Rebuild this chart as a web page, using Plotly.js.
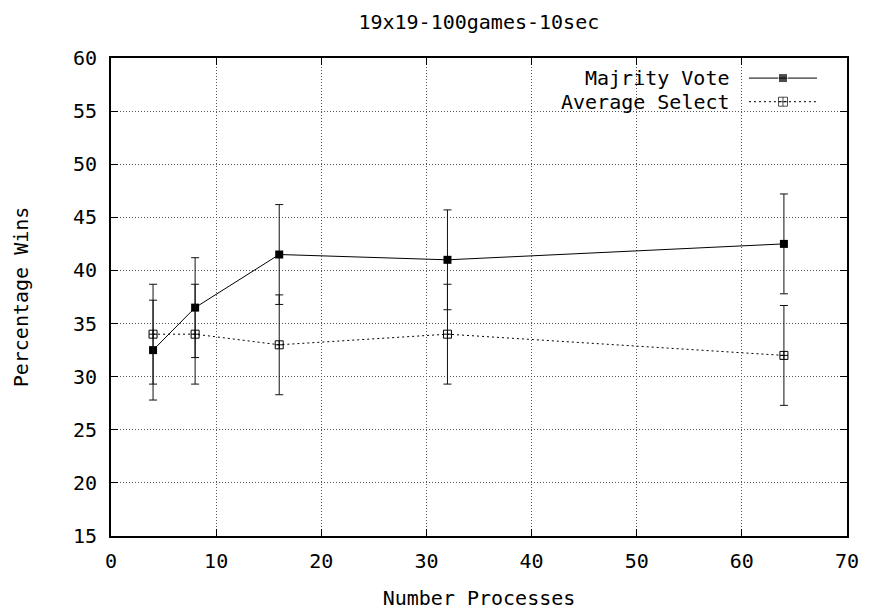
<!DOCTYPE html>
<html>
<head>
<meta charset="utf-8">
<script src="https://cdn.plot.ly/plotly-3.0.1.min.js"></script>
<style>
  html, body { margin: 0; padding: 0; background: #fff; }
  #chart { width: 869px; height: 615px; }
</style>
</head>
<body>
<div id="chart"></div>
<script>
// Number of processes used in each run
const processes = [4, 8, 16, 32, 64];

// Win percentage per configuration, with error half-widths
const majorityWins = [32.5, 36.5, 41.5, 41.0, 42.5];
const majorityErr  = [4.7, 4.7, 4.7, 4.7, 4.7];
const averageWins  = [34.0, 34.0, 33.0, 34.0, 32.0];
const averageErr   = [4.7, 4.7, 4.7, 4.7, 4.7];

const seriesNames = ["Majrity Vote", "Average Select"];

const xTicks = [0, 10, 20, 30, 40, 50, 60, 70];
const yTicks = [15, 20, 25, 30, 35, 40, 45, 50, 55, 60];

const FONT = "DejaVu Sans Mono, monospace";

const traces = [
  {
    x: processes, y: majorityWins, name: seriesNames[0],
    type: "scatter", mode: "lines+markers",
    line: { color: "#000", width: 1 },
    marker: { symbol: "square", size: 8, color: "#000" },
    error_y: { type: "data", array: majorityErr, visible: true, color: "#111", thickness: 1, width: 4 }
  },
  {
    x: processes, y: averageWins, name: seriesNames[1],
    type: "scatter", mode: "lines+markers",
    line: { color: "#000", width: 1, dash: "2px,3px" },
    marker: { symbol: "square-cross-open", size: 8, color: "#000", line: { width: 1 } },
    error_y: { type: "data", array: averageErr, visible: true, color: "#111", thickness: 1, width: 4 }
  },
  // key samples, placed on an overlay axis spanning the plot area (0..1)
  {
    x: [0.8668, 0.913, 0.9592], y: [0.958, 0.958, 0.958],
    xaxis: "x2", yaxis: "y2", type: "scatter", mode: "lines+markers",
    line: { color: "#000", width: 1 },
    marker: { symbol: "square", size: [0, 9, 0], color: "#000" },
    hoverinfo: "skip"
  },
  {
    x: [0.8668, 0.913, 0.9592], y: [0.9086, 0.9086, 0.9086],
    xaxis: "x2", yaxis: "y2", type: "scatter", mode: "lines+markers",
    line: { color: "#000", width: 1, dash: "2px,3px" },
    marker: { symbol: "square-cross-open", size: [0, 9, 0], color: "#000", line: { width: 1 } },
    hoverinfo: "skip"
  }
];

const axisCommon = {
  showline: true, mirror: "ticks", linecolor: "#000", linewidth: 2,
  ticks: "inside", ticklen: 7, tickcolor: "#000", tickwidth: 1,
  showgrid: true, gridcolor: "#555", griddash: "1px,2px", gridwidth: 1,
  zeroline: false, tickfont: { family: FONT, size: 20, color: "#000" }
};

const layout = {
  width: 869, height: 615,
  margin: { l: 111, r: 22, t: 58, b: 79 },
  paper_bgcolor: "#fff", plot_bgcolor: "#fff",
  showlegend: false,
  font: { family: FONT, size: 20, color: "#000" },
  title: { text: "19x19-100games-10sec", x: 0.551, xanchor: "center", y: 0.964, yanchor: "middle",
           font: { family: FONT, size: 20, color: "#000" } },
  xaxis: Object.assign({}, axisCommon, {
    range: [0, 70], tickvals: xTicks, ticktext: xTicks.map(String), ticklabelstandoff: 6,
    title: { text: "Number Processes", standoff: 19, font: { family: FONT, size: 20, color: "#000" } }
  }),
  yaxis: Object.assign({}, axisCommon, {
    range: [15, 60], tickvals: yTicks, ticktext: yTicks.map(String), ticklabelstandoff: 8,
    title: { text: "Percentage Wins", standoff: 39, font: { family: FONT, size: 20, color: "#000" } }
  }),
  xaxis2: { overlaying: "x", range: [0, 1], visible: false, fixedrange: true },
  yaxis2: { overlaying: "y", range: [0, 1], visible: false, fixedrange: true },
  shapes: [
    // key background hides the grid behind it
    { type: "rect", xref: "paper", yref: "paper", x0: 0.5625, x1: 0.977, y0: 0.885, y1: 0.996,
      fillcolor: "#fff", line: { width: 0 }, layer: "between" }
  ],
  annotations: [
    { text: seriesNames[0], xref: "paper", yref: "paper", x: 0.8433, y: 0.958,
      xanchor: "right", yanchor: "middle", showarrow: false,
      font: { family: FONT, size: 20, color: "#000" } },
    { text: seriesNames[1], xref: "paper", yref: "paper", x: 0.8433, y: 0.9086,
      xanchor: "right", yanchor: "middle", showarrow: false,
      font: { family: FONT, size: 20, color: "#000" } }
  ]
};

Plotly.newPlot("chart", traces, layout, { staticPlot: true, displayModeBar: false });
</script>
</body>
</html>
